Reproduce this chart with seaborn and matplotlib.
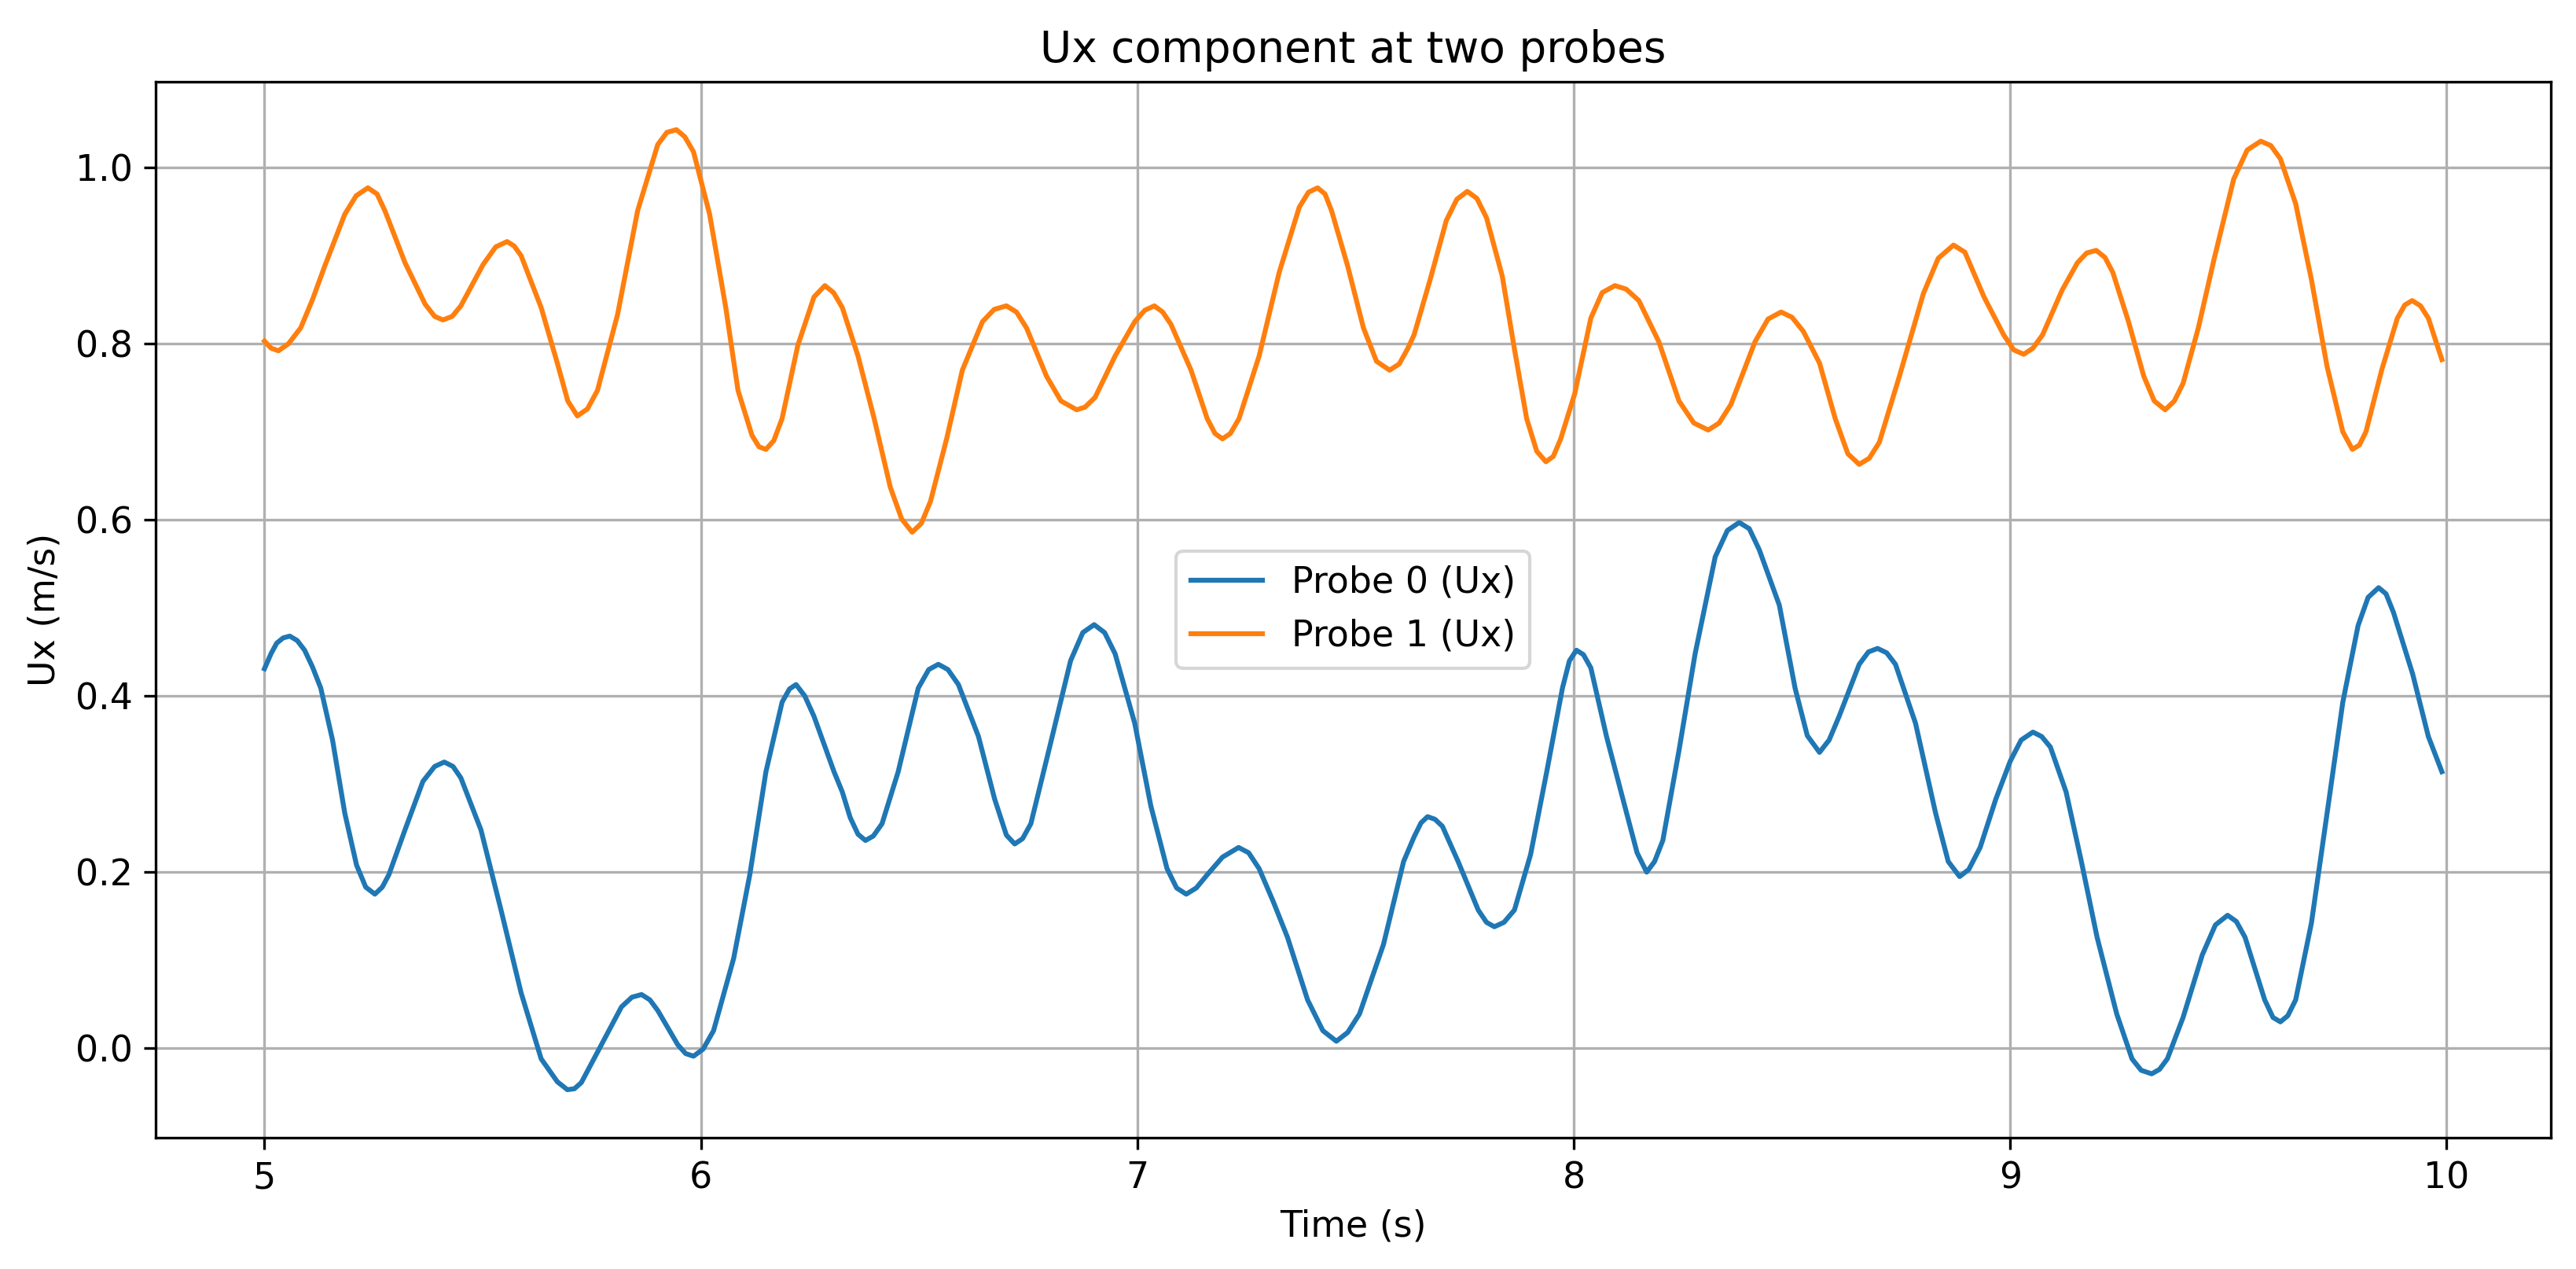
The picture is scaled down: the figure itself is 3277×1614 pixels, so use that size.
import numpy as np
import pandas as pd
import seaborn as sns
from matplotlib import pyplot as plt

# values (time in s, Ux in m/s)
t_probe0 = [5.000, 5.015, 5.028, 5.043, 5.058, 5.075, 5.092, 5.110, 5.129, 5.156,
            5.184, 5.211, 5.232, 5.253, 5.270, 5.285, 5.322, 5.363, 5.390, 5.412,
            5.432, 5.450, 5.496, 5.542, 5.588, 5.634, 5.671, 5.694, 5.710, 5.726,
            5.772, 5.818, 5.842, 5.864, 5.883, 5.901, 5.947, 5.965, 5.983, 6.005,
            6.029, 6.075, 6.112, 6.149, 6.186, 6.203, 6.218, 6.238, 6.259, 6.305,
            6.324, 6.342, 6.360, 6.377, 6.395, 6.415, 6.452, 6.498, 6.522, 6.544,
            6.566, 6.590, 6.636, 6.673, 6.700, 6.719, 6.737, 6.756, 6.801, 6.847,
            6.875, 6.901, 6.925, 6.949, 6.994, 7.031, 7.068, 7.090, 7.112, 7.135,
            7.160, 7.195, 7.232, 7.255, 7.279, 7.311, 7.344, 7.390, 7.425, 7.456,
            7.482, 7.509, 7.564, 7.610, 7.634, 7.650, 7.665, 7.682, 7.699, 7.735,
            7.781, 7.800, 7.818, 7.840, 7.864, 7.901, 7.938, 7.974, 7.990, 8.006,
            8.022, 8.039, 8.075, 8.121, 8.145, 8.167, 8.185, 8.204, 8.241, 8.278,
            8.324, 8.352, 8.379, 8.402, 8.425, 8.471, 8.507, 8.535, 8.563, 8.585,
            8.608, 8.654, 8.675, 8.696, 8.717, 8.737, 8.783, 8.829, 8.858, 8.884,
            8.905, 8.931, 8.967, 9.000, 9.025, 9.052, 9.072, 9.092, 9.128, 9.163,
            9.199, 9.244, 9.279, 9.300, 9.324, 9.342, 9.360, 9.396, 9.440, 9.470,
            9.498, 9.518, 9.538, 9.583, 9.602, 9.619, 9.636, 9.654, 9.690, 9.726,
            9.762, 9.797, 9.820, 9.844, 9.861, 9.878, 9.922, 9.958, 9.989]
ux_probe0 = [0.431, 0.448, 0.460, 0.466, 0.468, 0.463, 0.452, 0.433, 0.409, 0.350,
             0.267, 0.208, 0.183, 0.175, 0.183, 0.197, 0.248, 0.303, 0.320, 0.325,
             0.320, 0.307, 0.248, 0.157, 0.063, -0.012, -0.038, -0.047, -0.046, -0.039,
             0.004, 0.047, 0.058, 0.061, 0.055, 0.043, 0.004, -0.006, -0.009, -0.001,
             0.020, 0.102, 0.197, 0.314, 0.393, 0.408, 0.413, 0.400, 0.377, 0.314,
             0.291, 0.262, 0.243, 0.236, 0.241, 0.255, 0.314, 0.409, 0.430, 0.436,
             0.430, 0.413, 0.354, 0.283, 0.242, 0.232, 0.238, 0.255, 0.346, 0.440,
             0.472, 0.481, 0.472, 0.448, 0.369, 0.275, 0.204, 0.182, 0.175, 0.182,
             0.197, 0.217, 0.228, 0.222, 0.204, 0.167, 0.126, 0.055, 0.020, 0.008,
             0.018, 0.039, 0.118, 0.212, 0.240, 0.256, 0.263, 0.260, 0.252, 0.212,
             0.157, 0.143, 0.138, 0.143, 0.157, 0.220, 0.314, 0.409, 0.440, 0.452,
             0.447, 0.432, 0.354, 0.267, 0.222, 0.200, 0.212, 0.236, 0.338, 0.448,
             0.558, 0.588, 0.597, 0.590, 0.566, 0.503, 0.409, 0.355, 0.336, 0.350,
             0.377, 0.436, 0.450, 0.454, 0.449, 0.436, 0.369, 0.267, 0.212, 0.195,
             0.203, 0.228, 0.283, 0.326, 0.350, 0.359, 0.354, 0.342, 0.291, 0.212,
             0.126, 0.039, -0.012, -0.025, -0.029, -0.024, -0.012, 0.035, 0.106, 0.140,
             0.151, 0.144, 0.126, 0.055, 0.035, 0.030, 0.037, 0.055, 0.142, 0.267,
             0.393, 0.480, 0.512, 0.523, 0.516, 0.495, 0.425, 0.354, 0.314]

t_probe1 = [5.000, 5.015, 5.032, 5.055, 5.083, 5.110, 5.138, 5.184, 5.210, 5.237,
            5.258, 5.276, 5.322, 5.368, 5.390, 5.409, 5.430, 5.450, 5.501, 5.530,
            5.556, 5.572, 5.588, 5.634, 5.671, 5.695, 5.717, 5.740, 5.763, 5.809,
            5.855, 5.901, 5.922, 5.944, 5.963, 5.983, 6.020, 6.057, 6.085, 6.117,
            6.133, 6.149, 6.167, 6.186, 6.222, 6.259, 6.284, 6.304, 6.324, 6.360,
            6.397, 6.434, 6.460, 6.484, 6.505, 6.526, 6.563, 6.599, 6.645, 6.672,
            6.700, 6.723, 6.746, 6.792, 6.825, 6.861, 6.880, 6.903, 6.949, 6.994,
            7.017, 7.039, 7.058, 7.077, 7.123, 7.160, 7.178, 7.195, 7.213, 7.233,
            7.279, 7.325, 7.371, 7.392, 7.413, 7.430, 7.445, 7.482, 7.518, 7.548,
            7.578, 7.600, 7.619, 7.634, 7.671, 7.708, 7.732, 7.756, 7.778, 7.800,
            7.836, 7.864, 7.892, 7.915, 7.936, 7.953, 7.970, 8.002, 8.039, 8.065,
            8.094, 8.120, 8.149, 8.195, 8.241, 8.275, 8.308, 8.333, 8.360, 8.415,
            8.445, 8.475, 8.500, 8.526, 8.563, 8.599, 8.628, 8.654, 8.677, 8.700,
            8.746, 8.801, 8.835, 8.870, 8.896, 8.940, 8.985, 9.008, 9.031, 9.052,
            9.074, 9.119, 9.154, 9.175, 9.197, 9.217, 9.235, 9.271, 9.306, 9.330,
            9.355, 9.376, 9.396, 9.431, 9.467, 9.512, 9.543, 9.574, 9.597, 9.619,
            9.654, 9.690, 9.726, 9.762, 9.784, 9.800, 9.815, 9.851, 9.887, 9.904,
            9.921, 9.940, 9.958, 9.989]
ux_probe1 = [0.803, 0.795, 0.792, 0.800, 0.818, 0.850, 0.888, 0.947, 0.968, 0.977,
             0.970, 0.951, 0.892, 0.845, 0.831, 0.827, 0.831, 0.843, 0.890, 0.910,
             0.916, 0.911, 0.900, 0.841, 0.778, 0.735, 0.718, 0.726, 0.747, 0.833,
             0.951, 1.026, 1.040, 1.043, 1.035, 1.018, 0.947, 0.841, 0.747, 0.696,
             0.683, 0.680, 0.690, 0.715, 0.798, 0.853, 0.866, 0.858, 0.841, 0.786,
             0.715, 0.637, 0.601, 0.586, 0.596, 0.621, 0.692, 0.770, 0.825, 0.839,
             0.843, 0.836, 0.818, 0.763, 0.735, 0.725, 0.728, 0.739, 0.786, 0.825,
             0.838, 0.843, 0.836, 0.822, 0.770, 0.715, 0.698, 0.692, 0.698, 0.715,
             0.786, 0.881, 0.955, 0.972, 0.977, 0.970, 0.951, 0.888, 0.818, 0.780,
             0.770, 0.777, 0.794, 0.810, 0.873, 0.940, 0.964, 0.973, 0.965, 0.943,
             0.877, 0.794, 0.715, 0.678, 0.666, 0.672, 0.692, 0.743, 0.829, 0.858,
             0.866, 0.862, 0.849, 0.802, 0.735, 0.710, 0.702, 0.710, 0.731, 0.802,
             0.828, 0.836, 0.830, 0.814, 0.778, 0.715, 0.675, 0.663, 0.670, 0.688,
             0.763, 0.857, 0.897, 0.912, 0.904, 0.853, 0.810, 0.793, 0.788, 0.795,
             0.810, 0.861, 0.892, 0.903, 0.906, 0.898, 0.881, 0.825, 0.763, 0.735,
             0.725, 0.735, 0.755, 0.818, 0.896, 0.987, 1.020, 1.030, 1.025, 1.010,
             0.959, 0.873, 0.774, 0.700, 0.680, 0.685, 0.700, 0.770, 0.829, 0.844,
             0.849, 0.843, 0.829, 0.782]

probe_labels = ['Probe 0 (Ux)', 'Probe 1 (Ux)']

df0 = pd.DataFrame({'time': t_probe0, 'ux': ux_probe0})
df1 = pd.DataFrame({'time': t_probe1, 'ux': ux_probe1})

plt.rcParams['font.size'] = 11

fig = plt.figure(figsize=(3277 / 300, 1614 / 300), dpi=300)
ax = fig.add_axes([0.0604, 0.1035, 0.9298, 0.8321])

sns.lineplot(data=df0, x='time', y='ux', ax=ax, color='#1f77b4', linewidth=1.5, label=probe_labels[0])
sns.lineplot(data=df1, x='time', y='ux', ax=ax, color='#ff7f0e', linewidth=1.5, label=probe_labels[1])

ax.set_title('Ux component at two probes')
ax.set_xlabel('Time (s)')
ax.set_ylabel('Ux (m/s)')
ax.grid(True)
ax.legend(loc='center')

fig.savefig('out.png', dpi=300)
